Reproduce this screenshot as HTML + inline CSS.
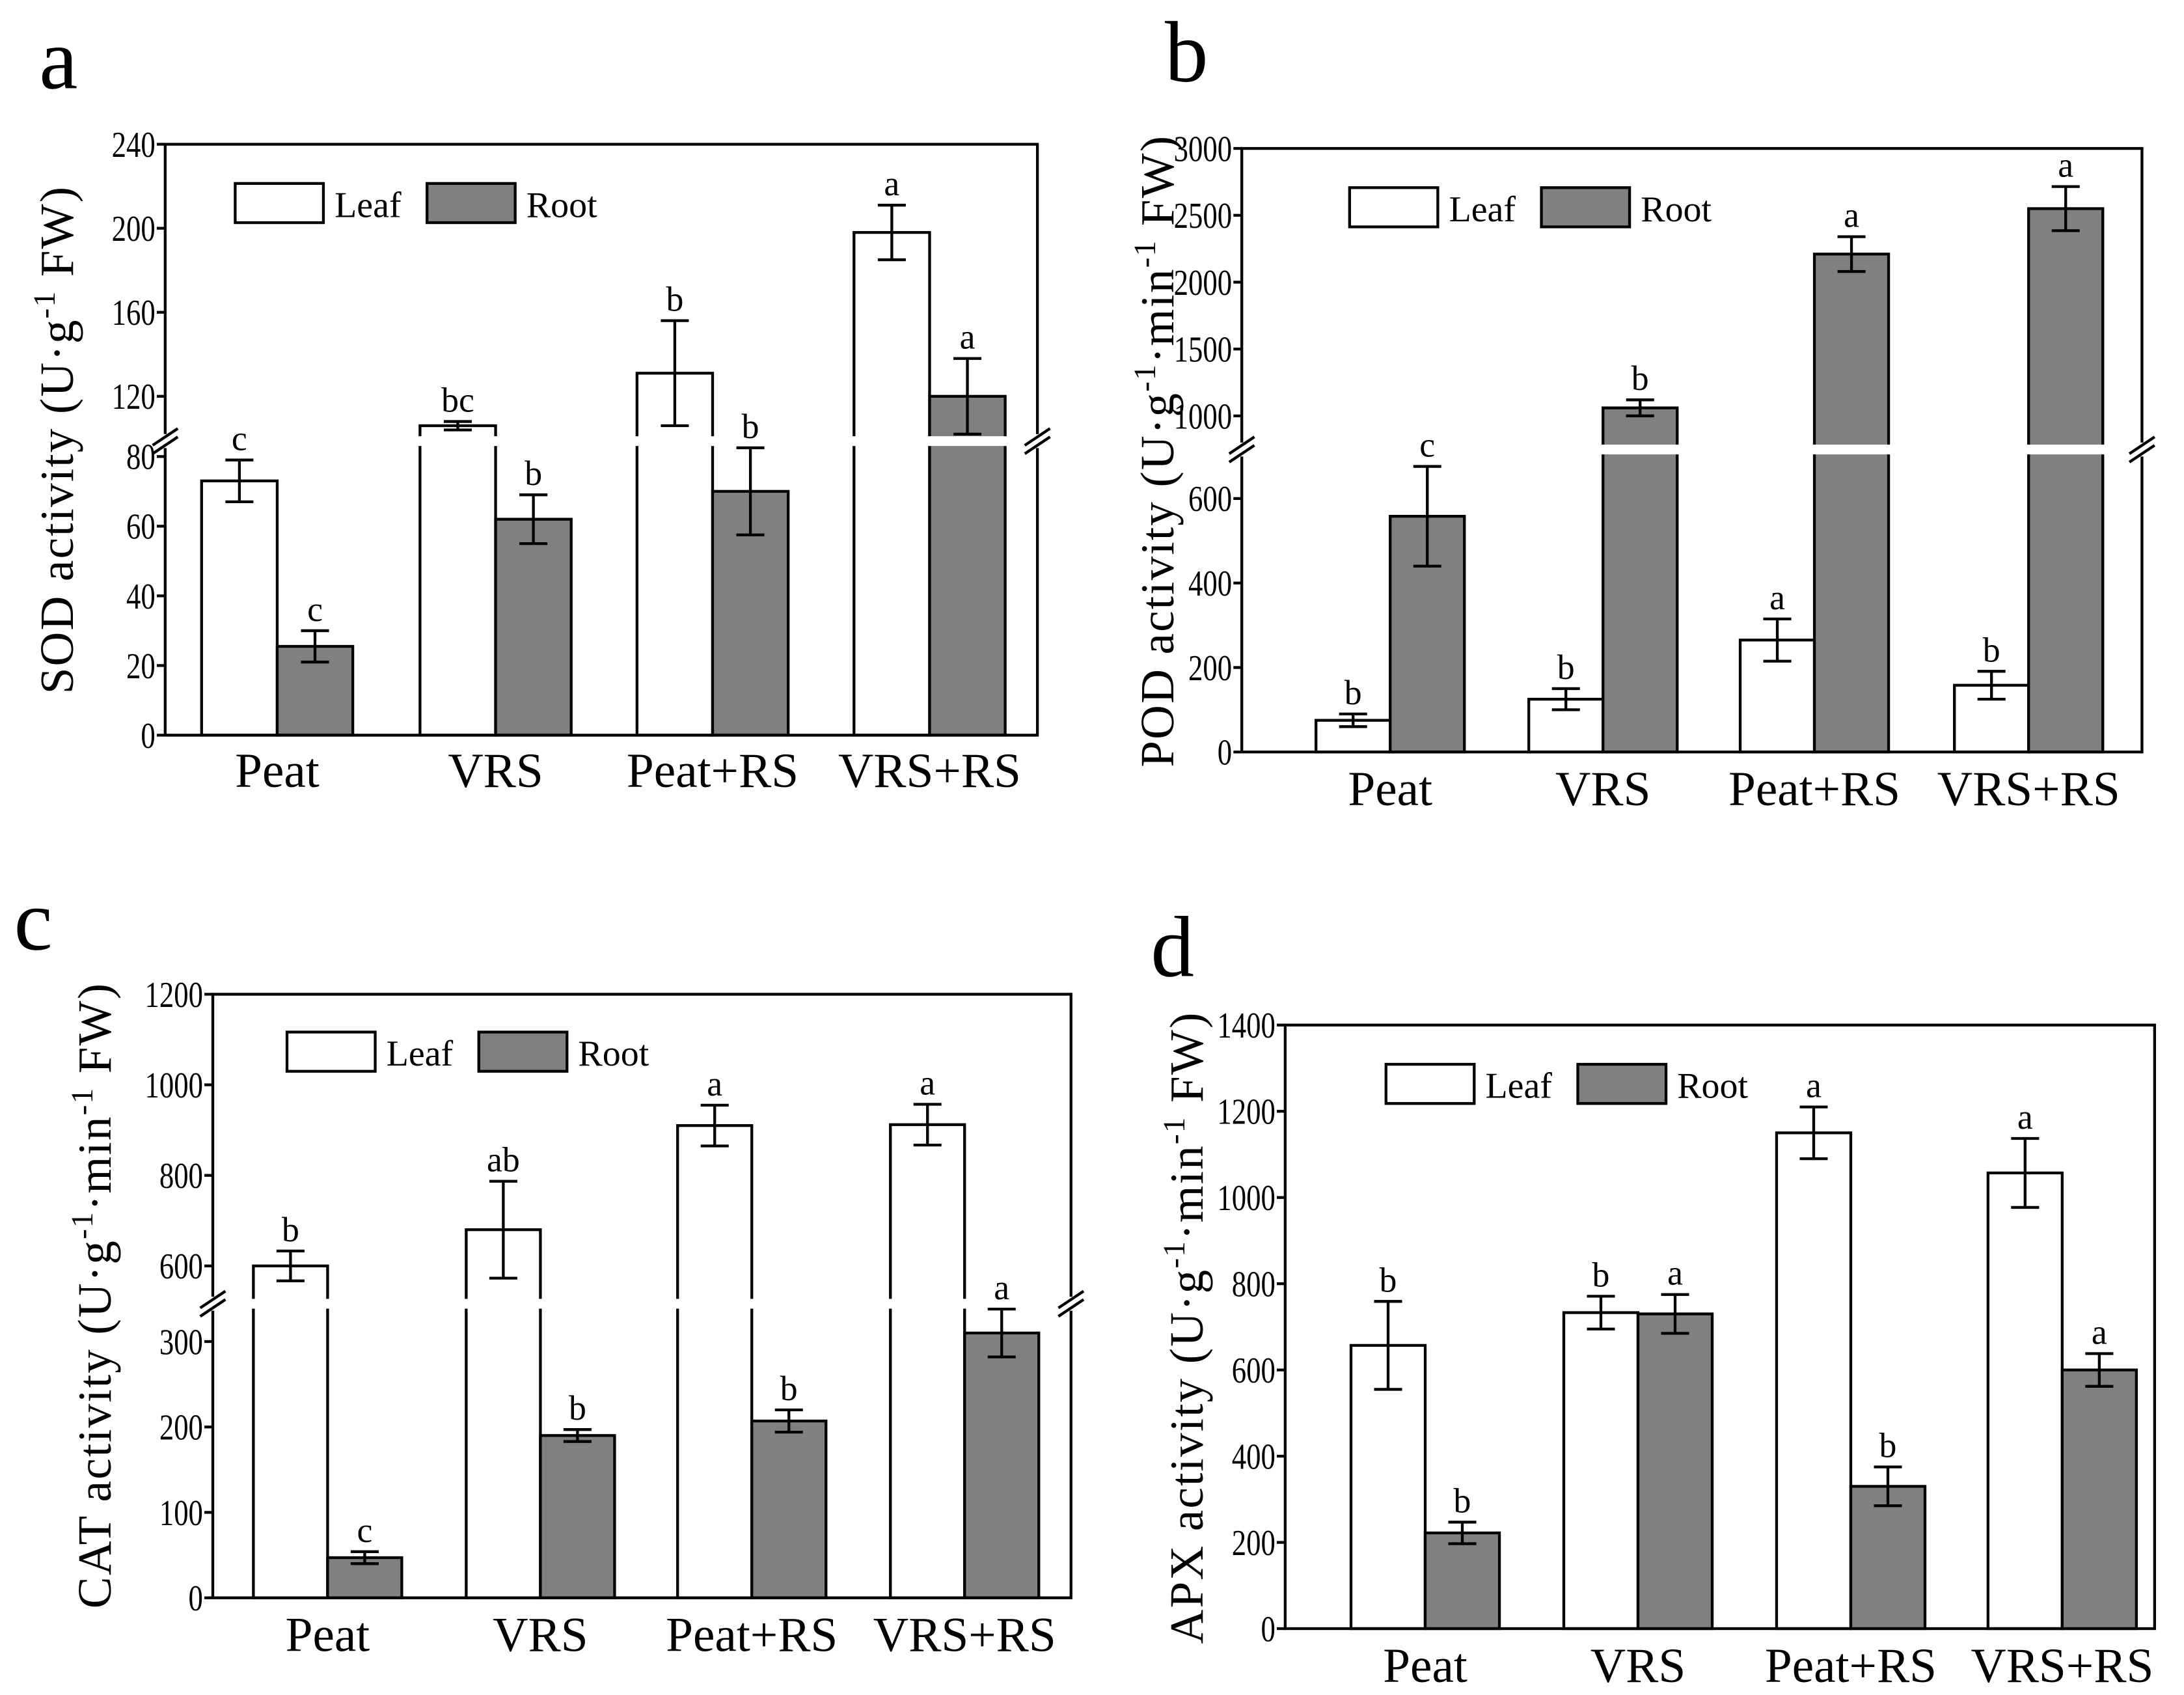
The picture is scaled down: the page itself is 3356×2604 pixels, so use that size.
<!DOCTYPE html>
<html><head><meta charset="utf-8"><style>
html,body{margin:0;padding:0;background:#fff;}
svg{display:block;}
text{font-family:"Liberation Serif",serif;fill:#000;}
</style></head><body>
<svg id="fig" xmlns="http://www.w3.org/2000/svg" width="3356" height="2604" viewBox="0 0 1560 1210.4" preserveAspectRatio="none"></svg>
<script>
const categories = ["Peat","VRS","Peat+RS","VRS+RS"];
// Panel a (SOD)
const aLeaf = [73, 106, 131, 198];
const aLeafErr = [6, 2, 25, 13];
const aRoot = [25.5, 62, 70, 120];
const aRootErr = [4.5, 7, 12.5, 18];
const aLeafLetters = ["c","bc","b","a"];
const aRootLetters = ["c","b","b","a"];
const aLowTicks = [0,20,40,60,80];
const aUpTicks = [120,160,200,240];
// Panel b (POD)
const bLeaf = [75, 125, 265, 158];
const bLeafErr = [15, 25, 50, 33];
const bRoot = [558, 1060, 2210, 2550];
const bRootErr = [118, 60, 130, 165];
const bLeafLetters = ["b","b","a","b"];
const bRootLetters = ["c","b","a","a"];
const bLowTicks = [0,200,400,600];
const bUpTicks = [1000,1500,2000,2500,3000];
// Panel c (CAT)
const cLeaf = [600, 680, 910, 912];
const cLeafErr = [33, 107, 45, 45];
const cRoot = [47, 190, 207, 310];
const cRootErr = [7, 7, 13, 28];
const cLeafLetters = ["b","ab","a","a"];
const cRootLetters = ["c","b","b","a"];
const cLowTicks = [0,100,200,300];
const cUpTicks = [600,800,1000,1200];
// Panel d (APX)
const dLeaf = [657, 733, 1150, 1057];
const dLeafErr = [102, 38, 60, 80];
const dRoot = [222, 730, 330, 600];
const dRootErr = [25, 45, 45, 38];
const dLeafLetters = ["b","b","a","a"];
const dRootLetters = ["b","a","b","a"];
const dTicks = [0,200,400,600,800,1000,1200,1400];

const NS="http://www.w3.org/2000/svg";
const svg=document.getElementById('fig');
function mk(tag,attrs,parent){const e=document.createElementNS(NS,tag);for(const k in attrs)e.setAttribute(k,attrs[k]);(parent||svg).appendChild(e);return e;}

function panel(cfg){
  const g=mk('g',{});
  
  
  const L=cfg.box[0],T=cfg.box[1],R=cfg.box[2],B=cfg.box[3];
  const lo=cfg.low, up=cfg.up;
  const yLow=v=>lo.y0+(v-lo.v0)*(lo.y1-lo.y0)/(lo.v1-lo.v0);
  const yUp=v=>up?up.y0+(v-up.v0)*(up.y1-up.y0)/(up.v1-up.v0):yLow(v);
  const y=v=>{ if(!up) return yLow(v); const a=yLow(v); return a>=cfg.breakY?a:Math.min(yUp(v),cfg.breakY); };
  const bw=cfg.bw;
  const series=i=>{const c=cfg.centers[i];return [[cfg.leaf,cfg.leafErr,cfg.leafL,c-bw,'#fff','leaf'],[cfg.root,cfg.rootErr,cfg.rootL,c,'#808080','root']];};
  for(let i=0;i<categories.length;i++){
    series(i).forEach(s=>{
      const v=s[0][i],yt=y(v);
      const r=mk('rect',{x:s[3],y:yt,width:bw,height:B-yt,fill:s[4],stroke:'#000','stroke-width':2},g);
      
      
    });
    const xl=mk('text',{x:cfg.centers[i],y:cfg.xlabY,'font-size':35,'text-anchor':'middle'},g);xl.textContent=categories[i];
    
    
  }
  if(up){
    mk('rect',{x:L+1,y:cfg.breakY-3.5,width:R-L-2,height:7,fill:'#fff'},g);
  }
  for(let i=0;i<categories.length;i++){
    series(i).forEach(s=>{
      const v=s[0][i],e=s[1][i];
      const cx=s[3]+bw/2, y1=y(v+e), y2=y(v-e);
      const eb=mk('path',{d:`M${cx},${y1}V${y2}M${cx-10},${y1}H${cx+10}M${cx-10},${y2}H${cx+10}`,stroke:'#000','stroke-width':2,fill:'none'},g);
      
      
      const t=mk('text',{x:cx,y:y1-7,'font-size':25,'text-anchor':'middle'},g);t.textContent=s[2][i];
      
      
    });
  }
  if(up){
    mk('path',{d:`M${L},${B}V${cfg.breakY+5}M${L},${cfg.breakY-5}V${T}H${R}V${cfg.breakY-5}M${R},${cfg.breakY+5}V${B}H${L}`,stroke:'#000','stroke-width':2,fill:'none'},g);
    [L,R].forEach(x=>{mk('path',{d:`M${x-9},${cfg.breakY+3}L${x+9},${cfg.breakY-9}M${x-9},${cfg.breakY+9}L${x+9},${cfg.breakY-3}`,stroke:'#000','stroke-width':2},g);});
  } else {
    mk('rect',{x:L,y:T,width:R-L,height:B-T,fill:'none',stroke:'#000','stroke-width':2},g);
  }
  const ticks=[];cfg.lowTicks.forEach(v=>ticks.push([v,yLow(v)]));
  if(up)cfg.upTicks.forEach(v=>ticks.push([v,yUp(v)]));
  ticks.forEach(tk=>{
    mk('line',{x1:L-6,x2:L,y1:tk[1],y2:tk[1],stroke:'#000','stroke-width':2},g);
    const t=mk('text',{x:0,y:0,'font-size':26,'text-anchor':'end',transform:`translate(${L-7},${tk[1]+9}) scale(0.8,1)`},g);t.textContent=tk[0];
    
    
  });
  const lg=mk('g',{},g);
  
  
  const ly=cfg.legY;
  mk('rect',{x:cfg.legX,y:ly,width:63,height:28,fill:'#fff',stroke:'#000','stroke-width':2},lg);
  let t=mk('text',{x:cfg.legX+71,y:ly+24,'font-size':26},lg);t.textContent='Leaf';
  mk('rect',{x:cfg.legX+137,y:ly,width:63,height:28,fill:'#808080',stroke:'#000','stroke-width':2},lg);
  t=mk('text',{x:cfg.legX+208,y:ly+24,'font-size':26},lg);t.textContent='Root';
  const yt=mk('text',{transform:`translate(${cfg.titleX},${cfg.titleY}) rotate(-90)`,'font-size':34,'letter-spacing':1,'text-anchor':'middle'},g);
  
  
  yt.innerHTML=cfg.title;
  const pl=mk('text',{x:cfg.pl[0],y:cfg.pl[1],'font-size':62},g);pl.textContent=cfg.letter;
  
  
}
const sup='<tspan dy="-13" font-size="22">-1</tspan><tspan dy="13">';
panel({name:'panel-a-sod',letter:'a',pl:[28,63],box:[118,103,741,525],bw:54,centers:[198,354,509,664],
  low:{v0:0,y0:525,v1:80,y1:326},up:{v0:120,y0:283,v1:240,y1:103},breakY:315,
  leaf:aLeaf,leafErr:aLeafErr,leafL:aLeafLetters,root:aRoot,rootErr:aRootErr,rootL:aRootLetters,
  lowTicks:aLowTicks,upTicks:aUpTicks,xlabY:562,legX:168,legY:131,titleX:52,titleY:314,
  title:'SOD activity (U·g'+sup+' FW)</tspan>'});
panel({name:'panel-b-pod',letter:'b',pl:[832,58],box:[887,106,1530,537],bw:53,centers:[993,1145,1296,1449],
  low:{v0:0,y0:537,v1:600,y1:356},up:{v0:1000,y0:297,v1:3000,y1:106},breakY:321,
  leaf:bLeaf,leafErr:bLeafErr,leafL:bLeafLetters,root:bRoot,rootErr:bRootErr,rootL:bRootLetters,
  lowTicks:bLowTicks,upTicks:bUpTicks,xlabY:575,legX:964,legY:134,titleX:838,titleY:322,
  title:'POD activity (U·g'+sup+'·min'+sup+' FW)</tspan></tspan>'});
panel({name:'panel-c-cat',letter:'c',pl:[10,678],box:[152,710,765,1141],bw:53,centers:[234,386,537,689],
  low:{v0:0,y0:1141,v1:300,y1:958},up:{v0:600,y0:904,v1:1200,y1:710},breakY:931,
  leaf:cLeaf,leafErr:cLeafErr,leafL:cLeafLetters,root:cRoot,rootErr:cRootErr,rootL:cRootLetters,
  lowTicks:cLowTicks,upTicks:cUpTicks,xlabY:1179,legX:205,legY:737,titleX:79,titleY:925,
  title:'CAT activity (U·g'+sup+'·min'+sup+' FW)</tspan></tspan>'});
panel({name:'panel-d-apx',letter:'d',pl:[822,697],box:[918,732,1539,1163],bw:53,centers:[1018,1170,1322,1473],
  low:{v0:0,y0:1163,v1:1400,y1:732},up:null,breakY:0,
  leaf:dLeaf,leafErr:dLeafErr,leafL:dLeafLetters,root:dRoot,rootErr:dRootErr,rootL:dRootLetters,
  lowTicks:dTicks,upTicks:[],xlabY:1201,legX:990,legY:760,titleX:859,titleY:948,
  title:'APX activity (U·g'+sup+'·min'+sup+' FW)</tspan></tspan>'});
</script>
</body></html>
